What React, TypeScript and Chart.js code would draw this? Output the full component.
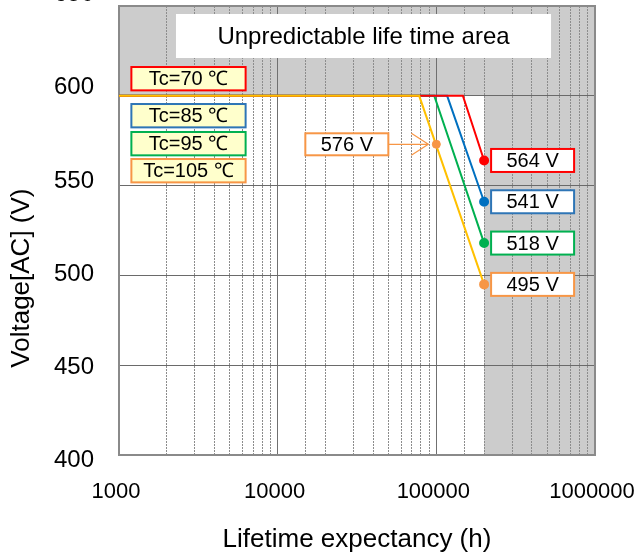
import React, { useEffect, useRef } from 'react';
import { Chart, registerables } from 'chart.js';

Chart.register(...registerables);

// ---- data ----
const SERIES_LABELS = ['Tc=70 ℃', 'Tc=85 ℃', 'Tc=95 ℃', 'Tc=105 ℃'];
const LINE_COLORS = ['#FF0000', '#0070C0', '#00B050', '#FFC000'];
const POINT_COLORS = ['#FF0000', '#0070C0', '#00B050', '#F79646'];
const BOX_COLORS = ['#FF0000', '#2E75B6', '#00B050', '#F79646'];
const START_HOURS = 1000;
const FLAT_VOLTAGE = 600;
const KNEE_HOURS = [147000, 117000, 97000, 78000];
const END_HOURS = 200000;
const END_VOLTAGES = [564, 541, 518, 495];
const END_LABELS = ['564 V', '541 V', '518 V', '495 V'];
const MARK_HOURS = 100000;
const MARK_VOLTAGE = 573;
const MARK_LABEL = '576 V';
const MARK_COLOR = '#F79646';
const X_TICKS = [1000, 10000, 100000, 1000000];
const Y_TICKS = [400, 450, 500, 550, 600, 650];
const REGION_TITLE = 'Unpredictable life time area';
const X_TITLE = 'Lifetime expectancy (h)';
const Y_TITLE = 'Voltage[AC] (V)';

const FONT = "'Liberation Sans', Arial, sans-serif";
const isMajor = (v: number) => X_TICKS.includes(v);

const overlayPlugin = {
  id: 'overlay',
  beforeDraw(chart: any) {
    const { ctx, chartArea: a, scales } = chart;
    const x = scales.x;
    const y = scales.y;
    ctx.save();
    ctx.fillStyle = '#ffffff';
    ctx.fillRect(0, 0, chart.width, chart.height);
    ctx.fillStyle = '#CCCCCC';
    const yFlat = y.getPixelForValue(FLAT_VOLTAGE);
    ctx.fillRect(a.left, a.top, a.right - a.left, yFlat - a.top);
    const xEnd = x.getPixelForValue(END_HOURS);
    ctx.fillRect(xEnd, a.top, a.right - xEnd, a.bottom - a.top);
    ctx.restore();
  },
  beforeDatasetsDraw(chart: any) {
    const { ctx, chartArea: a } = chart;
    ctx.save();
    ctx.strokeStyle = '#8a8a8a';
    ctx.lineWidth = 2;
    ctx.strokeRect(a.left, a.top, a.right - a.left, a.bottom - a.top);
    const W = a.right - a.left;
    const H = a.bottom - a.top;
    const tx0 = a.left + 0.1197 * W, tx1 = a.left + 0.9076 * W;
    const ty0 = a.top + 0.0178 * H, ty1 = a.top + 0.1158 * H;
    ctx.fillStyle = '#ffffff';
    ctx.fillRect(tx0, ty0, tx1 - tx0, ty1 - ty0);
    ctx.fillStyle = '#000000';
    ctx.font = `24px ${FONT}`;
    ctx.textAlign = 'center';
    ctx.textBaseline = 'middle';
    ctx.fillText(REGION_TITLE, (tx0 + tx1) / 2, (ty0 + ty1) / 2 + 1);
    const legendY = [0.1359, 0.2183, 0.2806, 0.3408];
    const lx = a.left + 0.026 * W;
    const lw = 0.24 * W;
    const lh = 0.052 * H;
    ctx.font = `20px ${FONT}`;
    SERIES_LABELS.forEach((lab, i) => {
      const ly = a.top + legendY[i] * H;
      ctx.fillStyle = '#FFFFCC';
      ctx.fillRect(lx, ly, lw, lh);
      ctx.strokeStyle = BOX_COLORS[i];
      ctx.lineWidth = 2;
      ctx.strokeRect(lx, ly, lw, lh);
      ctx.fillStyle = '#000000';
      ctx.fillText(lab, lx + lw / 2, ly + lh / 2 + 1);
    });
    ctx.restore();
  },
  afterDatasetsDraw(chart: any) {
    const { ctx, scales } = chart;
    const x = scales.x;
    const y = scales.y;
    ctx.save();
    ctx.font = `20px ${FONT}`;
    ctx.textAlign = 'center';
    ctx.textBaseline = 'middle';
    END_VOLTAGES.forEach((v, i) => {
      const px = x.getPixelForValue(END_HOURS);
      const py = y.getPixelForValue(v);
      const bx = px + 7, bw = 83, bh = 23;
      const by = py - bh / 2;
      ctx.fillStyle = '#ffffff';
      ctx.fillRect(bx, by, bw, bh);
      ctx.strokeStyle = BOX_COLORS[i];
      ctx.lineWidth = 2;
      ctx.strokeRect(bx, by, bw, bh);
      ctx.fillStyle = '#000000';
      ctx.fillText(END_LABELS[i], bx + bw / 2, py + 1);
    });
    const mx = x.getPixelForValue(MARK_HOURS);
    const my = y.getPixelForValue(MARK_VOLTAGE);
    const bw = 83, bh = 22;
    const bx = mx - 48 - bw;
    const by = my - bh / 2;
    ctx.fillStyle = '#ffffff';
    ctx.fillRect(bx, by, bw, bh);
    ctx.strokeStyle = MARK_COLOR;
    ctx.lineWidth = 2;
    ctx.strokeRect(bx, by, bw, bh);
    ctx.fillStyle = '#000000';
    ctx.fillText(MARK_LABEL, bx + bw / 2, my + 1);
    ctx.strokeStyle = MARK_COLOR;
    ctx.lineWidth = 1.2;
    ctx.beginPath();
    ctx.moveTo(bx + bw, my);
    ctx.lineTo(mx - 8, my);
    ctx.moveTo(mx - 25, my - 11);
    ctx.lineTo(mx - 8, my);
    ctx.lineTo(mx - 25, my + 11);
    ctx.stroke();
    ctx.restore();
  },
  afterDraw(chart: any) {
    const { ctx, chartArea: a, scales } = chart;
    const y = scales.y;
    ctx.save();
    ctx.fillStyle = '#000000';
    ctx.font = `24px ${FONT}`;
    ctx.textAlign = 'right';
    ctx.textBaseline = 'middle';
    Y_TICKS.forEach((v) => {
      const gy = y.getPixelForValue(v);
      const ly = a.bottom + 5 - (a.bottom - gy) * 1.036;
      ctx.fillText(String(v), a.left - 25, ly);
    });
    ctx.translate(22, a.top + 0.606 * (a.bottom - a.top));
    ctx.rotate(-Math.PI / 2);
    ctx.textAlign = 'center';
    ctx.font = `26px ${FONT}`;
    ctx.fillText(Y_TITLE, 0, 0);
    ctx.restore();
  },
};

export default function App() {
  const ref = useRef<HTMLCanvasElement | null>(null);
  useEffect(() => {
    if (!ref.current) return;
    const datasets: any[] = [
      {
        label: 'mark',
        data: [{ x: MARK_HOURS, y: MARK_VOLTAGE }],
        showLine: false,
        pointRadius: 4,
        pointBackgroundColor: MARK_COLOR,
        pointBorderColor: MARK_COLOR,
        order: -1,
      },
    ];
    const orders = [1, 2, 3, 0];
    SERIES_LABELS.forEach((lab, i) => {
      datasets.push({
        label: lab,
        data: [
          { x: START_HOURS, y: FLAT_VOLTAGE },
          { x: KNEE_HOURS[i], y: FLAT_VOLTAGE },
          { x: END_HOURS, y: END_VOLTAGES[i] },
        ],
        borderColor: LINE_COLORS[i],
        borderWidth: 2,
        pointRadius: [0, 0, 4],
        pointBackgroundColor: POINT_COLORS[i],
        pointBorderColor: POINT_COLORS[i],
        tension: 0,
        order: orders[i],
      });
    });
    const chart = new Chart(ref.current, {
      type: 'line',
      data: { datasets },
      options: {
        animation: false,
        responsive: false,
        layout: { padding: { left: 119, right: 40, top: 6, bottom: 0 } },
        plugins: { legend: { display: false }, tooltip: { enabled: false } },
        scales: {
          x: {
            type: 'logarithmic',
            min: 1000,
            max: 1000000,
            border: {
              display: false,
              dash: (c: any) => (c.tick && isMajor(c.tick.value) ? [] : [2, 1]),
            },
            grid: {
              drawTicks: false,
              lineWidth: 1,
              color: (c: any) => (c.tick && isMajor(c.tick.value) ? '#707070' : '#8c8c8c'),
            },
            ticks: {
              autoSkip: false,
              maxRotation: 0,
              padding: 24,
              labelOffset: -3,
              color: '#000000',
              font: { family: FONT, size: 22 },
              callback: (v: any) => (isMajor(Number(v)) ? String(v) : ''),
            },
            title: {
              display: true,
              text: X_TITLE,
              color: '#000000',
              font: { family: FONT, size: 26 },
              padding: { top: 0, bottom: 1 },
            },
            afterFit: (s: any) => {
              s.height = 101;
              s.paddingLeft = 0;
              s.paddingRight = 0;
            },
          },
          y: {
            type: 'linear',
            min: 400,
            max: 650,
            border: { display: false },
            grid: { drawTicks: false, color: '#6a6a6a', lineWidth: 1 },
            ticks: { display: false, stepSize: 50 },
            afterFit: (s: any) => {
              s.width = 0;
              s.paddingTop = 0;
              s.paddingBottom = 0;
            },
          },
        },
      },
      plugins: [overlayPlugin],
    });
    return () => chart.destroy();
  }, []);
  return (
    <div style={{ position: 'fixed', left: 0, top: 0, width: 635, height: 556 }}>
      <canvas ref={ref} width={635} height={556} style={{ display: 'block' }} />
    </div>
  );
}
